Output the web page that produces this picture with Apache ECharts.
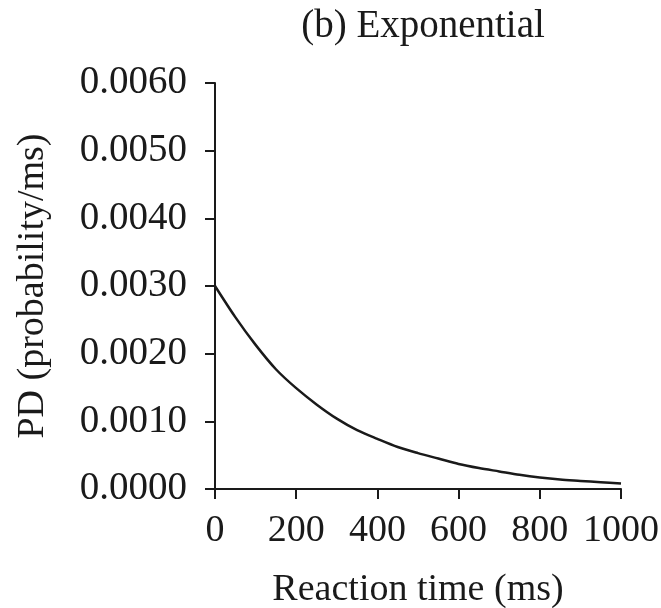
<!DOCTYPE html>
<html>
<head>
<meta charset="utf-8">
<script src="https://cdn.jsdelivr.net/npm/echarts@6/dist/echarts.min.js"></script>
<style>
  html, body { margin: 0; padding: 0; background: #fff; }
  #chart { width: 661px; height: 608px; }
</style>
</head>
<body>
<div id="chart"></div>
<script>
// reaction time (ms) and probability density
const times = [0, 50, 100, 150, 200, 250, 300, 350, 400, 450, 500,
               550, 600, 650, 700, 750, 800, 850, 900, 950, 1000];
const pd = [0.00300, 0.00254, 0.00213, 0.00177, 0.00149, 0.00125, 0.00104, 0.00087, 0.00074, 0.00062, 0.00053,
            0.00045, 0.00037, 0.00031, 0.00026, 0.00021, 0.00017, 0.00014, 0.00012, 0.00010, 0.00008];
const xTicks = [0, 200, 400, 600, 800, 1000];
const yTicks = [0, 0.001, 0.002, 0.003, 0.004, 0.005, 0.006];

const font = '"Liberation Serif", "DejaVu Serif", serif';
const ink = '#1a1a1a';

const chart = echarts.init(document.getElementById('chart'));

chart.setOption({
    animation: false,
    textStyle: { fontFamily: font, color: ink },
    title: {
        text: '(b) Exponential',
        left: 418,
        textAlign: 'center',
        top: 2,
        textStyle: { fontFamily: font, fontSize: 39, fontWeight: 'normal', color: ink }
    },
    grid: { left: 215, right: 40, top: 83, bottom: 119, containLabel: false, outerBoundsMode: 'none' },
    xAxis: {
        type: 'value',
        min: xTicks[0],
        max: xTicks[xTicks.length - 1],
        interval: 200,
        name: 'Reaction time (ms)',
        nameLocation: 'middle',
        nameGap: 82,
        nameTextStyle: { fontFamily: font, fontSize: 38, color: ink },
        axisLine: { show: true, lineStyle: { color: ink, width: 2 } },
        axisTick: { show: true, inside: false, length: 10, lineStyle: { color: ink, width: 2 } },
        axisLabel: { fontFamily: font, fontSize: 38, color: ink, margin: 23, formatter: (v) => String(v) },
        splitLine: { show: false }
    },
    yAxis: {
        type: 'value',
        min: yTicks[0],
        max: yTicks[yTicks.length - 1],
        interval: 0.001,
        name: 'PD (probability/ms)',
        nameLocation: 'middle',
        nameGap: 163,
        nameRotate: 90,
        nameTextStyle: { fontFamily: font, fontSize: 38, color: ink },
        axisLine: { show: true, lineStyle: { color: ink, width: 2 } },
        axisTick: { show: true, inside: false, length: 10, lineStyle: { color: ink, width: 2 } },
        axisLabel: {
            fontFamily: font, fontSize: 39, color: ink, margin: 28,
            formatter: (v) => v.toFixed(4)
        },
        splitLine: { show: false }
    },
    series: [
        {
            type: 'line',
            data: times.map((t, i) => [t, pd[i]]),
            smooth: 0.3,
            showSymbol: false,
            lineStyle: { color: ink, width: 2.5 }
        }
    ]
});
</script>
</body>
</html>
